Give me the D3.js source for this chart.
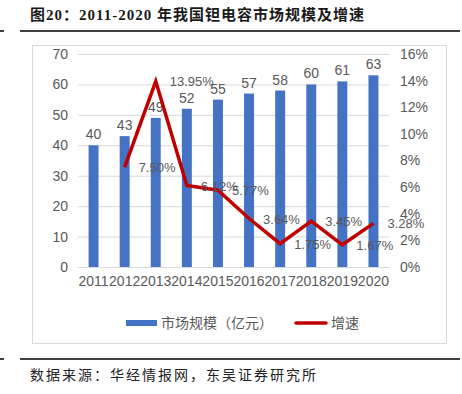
<!DOCTYPE html>
<html>
<head>
<meta charset="utf-8">
<script src="https://cdn.jsdelivr.net/npm/d3@7"></script>
<style>
  body { margin: 0; background: #fff; }
  svg { display: block; }
</style>
</head>
<body>
<div id="chart"></div>
<script>
// data
const years = ["2011", "2012", "2013", "2014", "2015", "2016", "2017", "2018", "2019", "2020"];
const marketSize = [40, 43, 49, 52, 55, 57, 58, 60, 61, 63];
const growth = [null, 7.50, 13.95, 6.12, 5.77, 3.64, 1.75, 3.45, 1.67, 3.28];
const leftTicks = [0, 10, 20, 30, 40, 50, 60, 70];
const rightTicks = [0, 2, 4, 6, 8, 10, 12, 14, 16];

const width = 462, height = 394;
const margin = { top: 54, left: 78, bottom: 127, right: 73 };
const iwidth = width - margin.left - margin.right;
const iheight = height - margin.top - margin.bottom;

const svg = d3.select("#chart").append("svg")
    .attr("width", width)
    .attr("height", height);

const serif = "'Liberation Serif', 'Noto Sans CJK SC', serif";
const sans = "'Liberation Sans', 'Noto Sans CJK SC', sans-serif";
const grey = "#595959";

// title + rules
svg.append("text")
    .attr("x", 30).attr("y", 20)
    .style("font-family", serif).style("font-size", "15px").style("font-weight", "bold")
    .style("letter-spacing", "1px").attr("fill", "#1a1a1a")
    .text("图20：2011-2020 年我国钽电容市场规模及增速");

[31, 359].forEach(yy => {
    svg.append("line").attr("x1", 20).attr("x2", 460).attr("y1", yy).attr("y2", yy)
        .attr("stroke", "#000").attr("stroke-width", 1.5);
    svg.append("line").attr("x1", 0).attr("x2", 4).attr("y1", yy).attr("y2", yy)
        .attr("stroke", "#000").attr("stroke-width", 1.5);
});

svg.append("text")
    .attr("x", 30).attr("y", 380)
    .style("font-family", serif).style("font-size", "14px")
    .style("letter-spacing", "2px").attr("fill", "#222")
    .text("数据来源：华经情报网，东吴证券研究所");

// chart frame
svg.append("rect")
    .attr("x", 32.5).attr("y", 45.5).attr("width", 414).attr("height", 298)
    .attr("fill", "none").attr("stroke", "#D9D9D9");

const g = svg.append("g").attr("transform", `translate(${margin.left},${margin.top})`);

const x = d3.scaleBand().domain(years).range([0, iwidth]).paddingInner(0.68).paddingOuter(0.34);
const y = d3.scaleLinear().domain([0, 70]).range([iheight, 0]);
const y2 = d3.scaleLinear().domain([0, 16]).range([iheight, 0]);

// grid
g.append("g")
    .call(d3.axisLeft(y).tickValues(leftTicks).tickSize(-iwidth).tickFormat(""))
    .call(a => a.select(".domain").remove())
    .call(a => a.selectAll("line").attr("stroke", "#D9D9D9"));

// left axis labels
g.append("g")
    .call(d3.axisLeft(y).tickValues(leftTicks).tickSize(0).tickPadding(10))
    .call(a => a.select(".domain").remove())
    .call(a => a.selectAll("text").attr("fill", grey).style("font-family", sans).style("font-size", "14px"));

// right axis labels
g.append("g")
    .attr("transform", `translate(${iwidth},0)`)
    .call(d3.axisRight(y2).tickValues(rightTicks).tickSize(0).tickPadding(11).tickFormat(d => d + "%"))
    .call(a => a.select(".domain").remove())
    .call(a => a.selectAll("text").attr("fill", grey).style("font-family", sans).style("font-size", "14px"));

// x axis labels
g.append("g")
    .attr("transform", `translate(0,${iheight})`)
    .call(d3.axisBottom(x).tickSize(0).tickPadding(9))
    .call(a => a.select(".domain").remove())
    .call(a => a.selectAll("text").attr("fill", grey).style("font-family", sans).style("font-size", "14px"));

// bars
const rows = years.map((yr, i) => ({ year: yr, size: marketSize[i], growth: growth[i] }));

g.selectAll("rect.bar").data(rows).enter().append("rect")
    .attr("class", "bar")
    .attr("x", d => x(d.year))
    .attr("y", d => y(d.size))
    .attr("width", x.bandwidth())
    .attr("height", d => iheight - y(d.size))
    .attr("fill", "#4472C4");

g.selectAll("text.val").data(rows).enter().append("text")
    .attr("class", "val")
    .attr("x", d => x(d.year) + x.bandwidth() / 2)
    .attr("y", d => y(d.size) - 6)
    .attr("text-anchor", "middle")
    .attr("fill", grey).style("font-family", sans).style("font-size", "14px")
    .text(d => d.size);

// growth line
const lineRows = rows.filter(d => d.growth != null);
const cx = d => x(d.year) + x.bandwidth() / 2;

g.append("path")
    .datum(lineRows)
    .attr("fill", "none")
    .attr("stroke", "#C00000")
    .attr("stroke-width", 3.5)
    .attr("stroke-linejoin", "miter")
    .attr("d", d3.line().x(cx).y(d => y2(d.growth)));

g.selectAll("text.pct").data(lineRows).enter().append("text")
    .attr("class", "pct")
    .attr("x", d => cx(d) + 14)
    .attr("y", d => y2(d.growth) + 5)
    .attr("fill", grey).style("font-family", sans).style("font-size", "13px")
    .text(d => d.growth.toFixed(2) + "%");

// legend
const lg = svg.append("g").attr("transform", "translate(0,323)");
lg.append("rect").attr("x", 126).attr("y", -3).attr("width", 31).attr("height", 6).attr("fill", "#4472C4");
lg.append("text").attr("x", 161).attr("y", 5)
    .attr("fill", grey).style("font-family", sans).style("font-size", "14px")
    .text("市场规模（亿元）");
lg.append("line").attr("x1", 296).attr("x2", 326).attr("y1", 0).attr("y2", 0)
    .attr("stroke", "#C00000").attr("stroke-width", 3.5).attr("stroke-linecap", "round");
lg.append("text").attr("x", 331).attr("y", 5)
    .attr("fill", grey).style("font-family", sans).style("font-size", "14px")
    .text("增速");
</script>
</body>
</html>
